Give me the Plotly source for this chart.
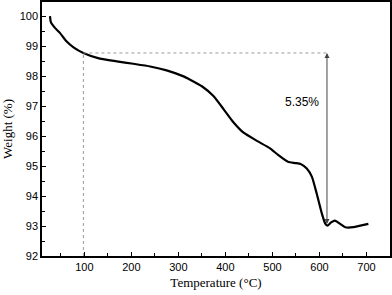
import plotly.graph_objects as go

temperature = [27, 29, 38, 48, 62, 77, 98, 133, 169, 204, 240, 275, 311, 325, 350, 374, 396, 417,
               438, 467, 495, 512, 533, 548, 560, 573, 584, 594, 605, 612, 617, 624, 633, 644,
               655, 672, 704]
weight = [100.0, 99.79, 99.6, 99.44, 99.16, 98.96, 98.77, 98.58, 98.49, 98.41, 98.32, 98.19,
          97.99, 97.88, 97.66, 97.34, 96.9, 96.46, 96.12, 95.84, 95.59, 95.37, 95.14, 95.1,
          95.07, 94.92, 94.64, 94.09, 93.42, 93.09, 93.01, 93.11, 93.18, 93.07, 92.96, 92.96,
          93.07]

x_ticks = [100, 200, 300, 400, 500, 600, 700]
y_ticks = [92, 93, 94, 95, 96, 97, 98, 99, 100]

ref_temp = 98
ref_weight = 98.77
arrow_temp = 616
arrow_bottom = 93.02
loss_label = "5.35%"

fig = go.Figure()
fig.add_trace(go.Scatter(x=temperature, y=weight, mode="lines",
                         line=dict(color="black", width=2.2, shape="spline", smoothing=0.5),
                         showlegend=False, hoverinfo="skip"))

fig.add_shape(type="line", x0=ref_temp, x1=arrow_temp, y0=ref_weight, y1=ref_weight,
              line=dict(color="#9a9a9a", width=1, dash="dot"))
fig.add_shape(type="line", x0=ref_temp, x1=ref_temp, y0=92, y1=ref_weight,
              line=dict(color="#9a9a9a", width=1, dash="dot"))

fig.add_annotation(x=arrow_temp, y=ref_weight, ax=arrow_temp, ay=arrow_bottom,
                   xref="x", yref="y", axref="x", ayref="y", text="",
                   showarrow=True, arrowhead=2, arrowside="end+start", arrowsize=1,
                   arrowwidth=1, arrowcolor="#444444")
fig.add_annotation(x=562, y=97.15, text=loss_label, showarrow=False, xref="x", yref="y",
                   font=dict(family="Liberation Sans, Arial", size=12, color="black"))

fig.update_layout(
    width=392, height=295,
    margin=dict(l=42, r=2, t=2, b=39, autoexpand=False),
    paper_bgcolor="white", plot_bgcolor="white",
    xaxis=dict(range=[10, 750], tickvals=x_ticks, ticks="inside", ticklen=4, tickwidth=1,
               tickcolor="black", showline=True, linecolor="black", linewidth=1.5,
               mirror=True, showgrid=False, zeroline=False, automargin=False,
               minor=dict(dtick=50, tick0=0, ticks="inside", ticklen=3, tickcolor="black", showgrid=False),
               tickfont=dict(family="Liberation Sans, Arial", size=11, color="black"),
               title=dict(text="Temperature (°C)", standoff=6,
                          font=dict(family="Liberation Serif, Times New Roman", size=13, color="black"))),
    yaxis=dict(range=[92, 100.47], tickvals=y_ticks, ticks="inside", ticklen=4, tickwidth=1,
               tickcolor="black", showline=True, linecolor="black", linewidth=1.5,
               mirror=True, showgrid=False, zeroline=False, automargin=False,
               minor=dict(dtick=0.5, tick0=92, ticks="inside", ticklen=3, tickcolor="black", showgrid=False),
               tickfont=dict(family="Liberation Sans, Arial", size=11, color="black"),
               title=dict(text="Weight (%)", standoff=4,
                          font=dict(family="Liberation Serif, Times New Roman", size=13, color="black"))),
)

fig.write_html("out.html", post_script="document.body.style.margin='0';",
               config={"displayModeBar": False})
